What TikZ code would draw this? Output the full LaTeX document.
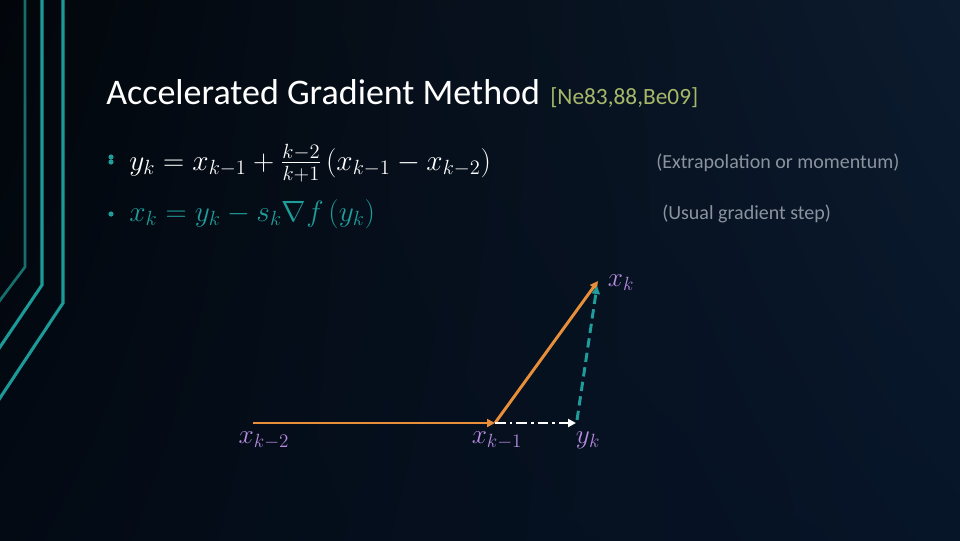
\documentclass[tikz,border=0pt]{standalone}
\usepackage{fix-cm}
\usepackage{fontspec}
\setmainfont{Carlito}
\usetikzlibrary{arrows.meta,shadings}
\definecolor{bgTL}{HTML}{02060B}
\definecolor{bgTR}{HTML}{0C1B2E}
\definecolor{bgBL}{HTML}{030A14}
\definecolor{bgBR}{HTML}{071529}
\definecolor{decoA}{HTML}{15706D}
\definecolor{decoB}{HTML}{1B9A97}
\definecolor{orangeln}{HTML}{E98F3A}
\definecolor{tealln}{HTML}{1F9D9A}
\definecolor{lblpurple}{HTML}{B68BE0}
\definecolor{citegreen}{HTML}{A7B86A}
\definecolor{notegray}{HTML}{8A939E}
\tikzset{
  decothin/.style={draw=decoA, line width=2pt},
  decothick/.style={draw=decoB, line width=2.3pt},
  titletext/.style={anchor=base west, inner sep=0pt, text=white, font=\fontsize{27}{32}\selectfont},
  citetext/.style={anchor=base west, inner sep=0pt, text=citegreen, font=\fontsize{17.5}{21}\selectfont},
  eqtext/.style={anchor=base west, inner sep=0pt, font=\fontsize{22}{27}\selectfont},
  notetext/.style={anchor=base west, inner sep=0pt, text=notegray, font=\fontsize{15}{18}\selectfont},
  pointlabel/.style={inner sep=0pt, text=lblpurple, font=\fontsize{20.5}{24}\selectfont},
  bulletdot/.style={fill=tealln, draw=none},
  orangearrow/.style={draw=orangeln, line width=2.2pt, -{Triangle[length=6pt,width=6pt]}},
  momentumarrow/.style={draw=white, line width=2.2pt, dash pattern=on 8pt off 3pt on 2pt off 3pt, -{Triangle[length=6pt,width=6pt]}},
  gradarrow/.style={draw=tealln, line width=2.2pt, dash pattern=on 7pt off 4pt, -{Triangle[length=6pt,width=6pt]}}
}
\begin{document}
\begin{tikzpicture}[x=0.75pt,y=-0.75pt]
\useasboundingbox (0,0) rectangle (960,540);
\shade[upper left=bgTL, upper right=bgTR, lower left=bgBL, lower right=bgBR] (0,0) rectangle (960,540);
% decorative lines
\draw[decothin] (25,-5) -- (25,267) -- (-2,303);
\draw[decothick] (42,-5) -- (42,285) -- (-2,350);
\draw[decothick] (63,-5) -- (63,303) -- (-2,401);
% title
\node[titletext] (title) at (106,104) {Accelerated Gradient Method};
\node[citetext] (cite) at (550,104) {[Ne83,88,Be09]};
% bullets
\fill[bulletdot] (111,157) circle (2.6);
\fill[bulletdot] (111,162) circle (2.6);
\fill[bulletdot] (111,214) circle (2.6);
\node[eqtext, text=white] (eq1) at (129,170) {$y_k = x_{k-1} + \frac{k-2}{k+1}\,(x_{k-1} - x_{k-2})$};
\node[eqtext, text=tealln] (eq2) at (129,221) {$x_k = y_k - s_k \nabla f\,(y_k)$};
\node[notetext] (note1) at (656,168) {(Extrapolation or momentum)};
\node[notetext] (note2) at (662,219) {(Usual gradient step)};
% diagram
\coordinate (A) at (253,423);
\coordinate (B) at (495,423);
\coordinate (C) at (598,281);
\coordinate (Y) at (576,423);
\coordinate (Yt) at (577,420);
\coordinate (Ct) at (597,286);
\draw[orangearrow] (A) -- (B);
\draw[orangearrow] (B) -- (C);
\draw[momentumarrow] (B) -- (Y);
\draw[gradarrow] (Yt) -- (Ct);
\node[pointlabel] (lA) at (264,440) {$x_{k-2}$};
\node[pointlabel] (lB) at (497,440) {$x_{k-1}$};
\node[pointlabel] (lY) at (588,440) {$y_k$};
\node[pointlabel] (lC) at (621,283) {$x_k$};
\end{tikzpicture}
\end{document}
